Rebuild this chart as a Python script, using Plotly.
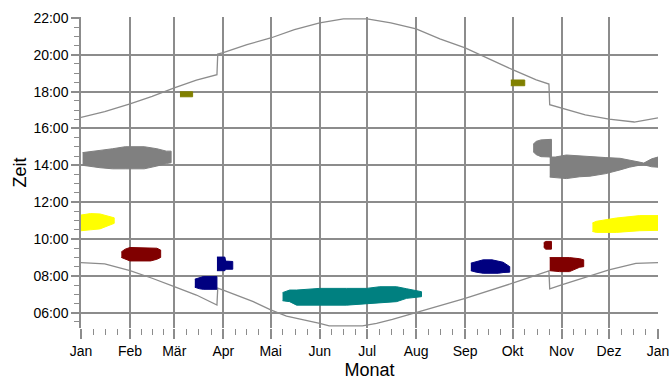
import plotly.graph_objects as go

# Day-of-year positions of month starts and their German labels
month_days = [0, 31, 59, 90, 120, 151, 181, 212, 243, 273, 304, 334, 365]
month_labels = ["Jan", "Feb", "Mär", "Apr", "Mai", "Jun", "Jul", "Aug",
                "Sep", "Okt", "Nov", "Dez", "Jan"]

# Hour ticks
hour_ticks = [6, 8, 10, 12, 14, 16, 18, 20, 22]
hour_labels = ["06:00", "08:00", "10:00", "12:00", "14:00", "16:00",
               "18:00", "20:00", "22:00"]

# Sunset (local time, hours) with the summer-time jumps
sunset_days = [0, 15, 31, 45, 59, 73, 86, 86.5, 90, 105, 120, 135, 151, 166,
               181, 196, 212, 227, 243, 258, 273, 288, 296, 296.5, 304, 319,
               334, 350, 365]
sunset_h = [16.60, 16.92, 17.34, 17.74, 18.20, 18.62, 18.92, 20.04, 20.12,
            20.55, 20.91, 21.36, 21.73, 21.95, 21.95, 21.73, 21.40, 20.86,
            20.37, 19.77, 19.19, 18.64, 18.41, 17.29, 17.11, 16.74, 16.51,
            16.35, 16.57]

# Sunrise (local time, hours)
sunrise_days = [0, 15, 31, 45, 59, 73, 86, 86.5, 90, 109, 120, 130, 151, 157,
                178, 187, 197, 212, 227, 233, 243, 273, 296, 296.5, 304, 334,
                351, 365]
sunrise_h = [8.72, 8.65, 8.28, 7.87, 7.41, 6.96, 6.42, 7.33, 7.23, 6.60, 6.15,
             5.82, 5.42, 5.28, 5.28, 5.42, 5.64, 6.00, 6.36, 6.51, 6.78, 7.60,
             8.27, 7.29, 7.51, 8.32, 8.68, 8.72]

# Shadow periods: (day, start hour, end hour)
grau_winter = [(1, 14.00, 14.69), (5, 13.96, 14.72), (12, 13.87, 14.81),
               (20, 13.81, 14.90), (28, 13.81, 15.01), (40, 13.81, 15.01),
               (48, 13.96, 14.90), (54, 14.10, 14.77), (57, 14.14, 14.77)]
grau_herbst_a = [(286, 14.74, 15.14), (288, 14.58, 15.30), (291, 14.47, 15.38),
                 (297.6, 14.45, 15.41)]
grau_herbst_b = [(296.5, 13.36, 14.45), (300, 13.33, 14.45), (307, 13.28, 14.56),
                 (315.5, 13.38, 14.50), (322, 13.41, 14.45), (332, 13.55, 14.42),
                 (341, 13.75, 14.38), (347, 13.90, 14.30), (353, 14.00, 14.18),
                 (356, 14.03, 14.12), (358, 13.98, 14.20), (361, 13.92, 14.35),
                 (365, 13.90, 14.45)]
gelb_januar = [(0, 10.45, 11.30), (6, 10.50, 11.38), (12, 10.55, 11.36),
               (16, 10.70, 11.25), (21, 10.85, 11.15)]
gelb_dezember = [(323.5, 10.41, 10.87), (326, 10.36, 10.96), (338.7, 10.36, 11.14),
                 (353.4, 10.45, 11.27), (365, 10.47, 11.27)]
rot_februar = [(25.5, 9.00, 9.30), (28, 8.90, 9.45), (31, 8.81, 9.54),
               (44, 8.81, 9.54), (48, 8.90, 9.50), (50.4, 9.00, 9.40)]
rot_oktober = [(292.7, 9.55, 9.80), (294, 9.45, 9.87), (297.6, 9.45, 9.87)]
rot_november = [(296.5, 8.28, 8.99), (302.8, 8.23, 8.99), (309, 8.23, 8.99),
                (315.5, 8.47, 8.93), (318, 8.50, 8.87)]
blau_maerz = [(72, 7.38, 7.82), (75, 7.30, 7.90), (77.3, 7.27, 7.96),
              (86, 7.27, 7.96)]
blau_april = [(86, 8.28, 9.02), (91, 8.28, 9.02), (91.5, 8.36, 8.80),
              (96, 8.36, 8.78)]
blau_september = [(246.6, 8.28, 8.69), (250, 8.20, 8.78), (254.4, 8.14, 8.87),
                  (260, 8.14, 8.87), (264, 8.14, 8.78), (267, 8.18, 8.74),
                  (271.2, 8.20, 8.50)]
tuerkis_sommer = [(127.5, 6.65, 7.09), (132, 6.60, 7.23), (136.4, 6.41, 7.23),
                  (151, 6.41, 7.32), (168, 6.41, 7.32), (180.6, 6.47, 7.32),
                  (189, 6.54, 7.41), (199.6, 6.60, 7.41), (206, 6.78, 7.30),
                  (215.4, 6.87, 7.14)]
oliv_maerz = [(62.6, 17.72, 17.99), (70.6, 17.72, 17.99)]
oliv_oktober = [(271.9, 18.32, 18.63), (280.7, 18.32, 18.63)]

periods = [
    (grau_winter, "#808080"), (grau_herbst_a, "#808080"), (grau_herbst_b, "#808080"),
    (gelb_januar, "#FFFF00"), (gelb_dezember, "#FFFF00"),
    (rot_februar, "#800000"), (rot_oktober, "#800000"), (rot_november, "#800000"),
    (blau_maerz, "#000080"), (blau_april, "#000080"), (blau_september, "#000080"),
    (tuerkis_sommer, "#008080"),
    (oliv_maerz, "#808000"), (oliv_oktober, "#808000"),
]

fig = go.Figure()

fig.add_trace(go.Scatter(x=sunset_days, y=sunset_h, mode="lines",
                         line=dict(color="#8c8c8c", width=1.3), hoverinfo="skip"))
fig.add_trace(go.Scatter(x=sunrise_days, y=sunrise_h, mode="lines",
                         line=dict(color="#8c8c8c", width=1.3), hoverinfo="skip"))

for rows, color in periods:
    days = [r[0] for r in rows]
    lo = [r[1] for r in rows]
    hi = [r[2] for r in rows]
    fig.add_trace(go.Scatter(
        x=days + days[::-1], y=hi + lo[::-1],
        mode="lines", fill="toself", fillcolor=color,
        line=dict(color=color, width=1), hoverinfo="skip"))

minor_days = []
for a, b in zip(month_days[:-1], month_days[1:]):
    minor_days += [a + k * (b - a) / 4 for k in (1, 2, 3)]

axis_font = dict(family="Liberation Sans, Arial, sans-serif", size=14, color="#000")

fig.update_layout(
    width=669, height=380,
    margin=dict(l=81, r=11, t=17, b=52),
    paper_bgcolor="white", plot_bgcolor="white",
    showlegend=False,
    font=axis_font,
    xaxis=dict(
        range=[0, 365], tickmode="array", tickvals=month_days, ticktext=month_labels,
        showgrid=True, gridcolor="#8c8c8c", gridwidth=1.5,
        showline=False,
        ticks="outside", ticklen=10, tickwidth=1.5, tickcolor="#8c8c8c",
        ticklabelstandoff=0, ticklabeloverflow="allow",
        minor=dict(tickmode="array", tickvals=minor_days, ticks="outside",
                   ticklen=6, tickwidth=1.2, tickcolor="#8c8c8c", showgrid=False),
        title=dict(text="Monat", font=dict(size=18), standoff=7),
        zeroline=False, automargin=False,
    ),
    yaxis=dict(
        range=[5.17, 22.05], tickmode="array", tickvals=hour_ticks, ticktext=hour_labels,
        showgrid=True, gridcolor="#8c8c8c", gridwidth=1.5,
        showline=True, linecolor="#8c8c8c", linewidth=1.5,
        ticks="outside", ticklen=8, tickwidth=1.5, tickcolor="#8c8c8c",
        minor=dict(dtick=0.5, tick0=0, ticks="outside", ticklen=5,
                   tickwidth=1.2, tickcolor="#8c8c8c", showgrid=False),
        title=dict(text="Zeit", font=dict(size=18), standoff=2),
        zeroline=False, automargin=False,
    ),
)

fig.write_html("out.html")
